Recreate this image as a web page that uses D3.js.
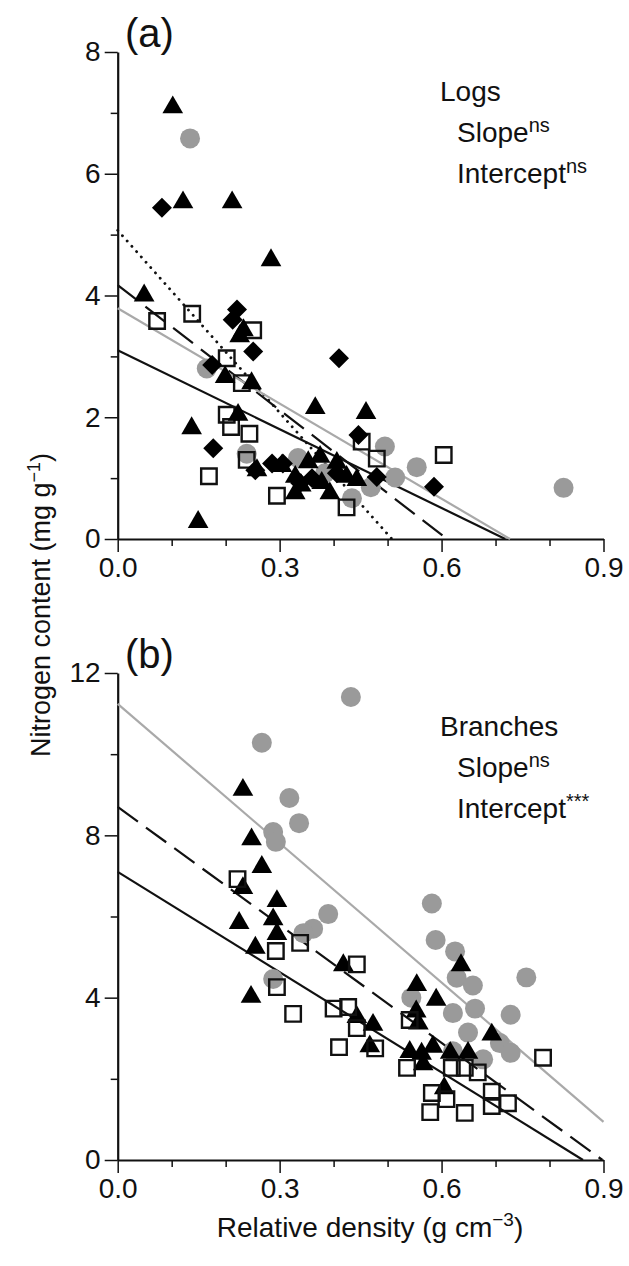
<!DOCTYPE html>
<html>
<head>
<meta charset="utf-8">
<script src="https://cdn.jsdelivr.net/npm/d3@7"></script>
<style>
  body { margin: 0; background: #fff; }
  svg text { font-family: "Liberation Sans", Arial, sans-serif; fill: #111; }
  .axis path, .axis line { stroke: #111; }
  .axis text { font-family: "Liberation Sans", Arial, sans-serif; font-size: 28px; fill: #111; }
</style>
</head>
<body>
<div id="chart"></div>
<script>
// ---- data (relative density, nitrogen content) ----
// (a) Logs
const logsTriangles = [[0.102,7.09],[0.121,5.53],[0.212,5.53],[0.284,4.58],[0.049,4.0],[0.233,3.43],[0.226,3.33],
  [0.199,2.66],[0.248,2.56],[0.366,2.15],[0.46,2.07],[0.137,1.82],[0.223,2.04],[0.149,0.28],[0.258,1.13],[0.304,1.2],
  [0.329,1.02],[0.329,0.75],[0.353,1.26],[0.375,1.35],[0.378,0.92],[0.393,0.75],[0.406,1.25],[0.424,1.02],[0.443,0.97],[0.34,0.88]];
const logsDiamonds = [[0.082,5.44],[0.221,3.77],[0.213,3.6],[0.251,3.08],[0.175,2.86],[0.177,1.49],[0.255,1.13],
  [0.286,1.24],[0.306,1.24],[0.338,0.92],[0.41,2.97],[0.446,1.71],[0.48,1.02],[0.586,0.86],[0.406,1.08],[0.36,1.0]];
const logsSquares = [[0.073,3.58],[0.138,3.7],[0.251,3.43],[0.202,2.97],[0.23,2.56],[0.202,2.04],[0.21,1.84],
  [0.244,1.73],[0.239,1.3],[0.169,1.03],[0.295,0.71],[0.452,1.6],[0.48,1.32],[0.424,0.52],[0.604,1.38]];
const logsCircles = [[0.134,6.58],[0.165,2.8],[0.239,1.4],[0.334,1.33],[0.495,1.52],[0.554,1.18],[0.514,1.01],
  [0.434,0.67],[0.469,0.85],[0.384,1.08],[0.826,0.84]];
// regression lines: [x0, y0, x1, y1]
const logsDotted = [0, 5.07, 0.508, 0];
const logsDashed = [0, 4.17, 0.61, 0];
const logsGrey = [0, 3.79, 0.727, 0];
const logsSolid = [0, 3.10, 0.718, 0];

// (b) Branches
const branchTriangles = [[0.232,9.12],[0.248,7.9],[0.267,7.22],[0.232,6.7],[0.295,6.38],[0.225,5.84],[0.288,5.93],
  [0.295,5.57],[0.255,5.23],[0.247,4.02],[0.418,4.8],[0.443,3.52],[0.473,3.33],[0.467,2.8],[0.636,4.8],[0.554,4.31],
  [0.59,3.95],[0.553,3.66],[0.557,3.36],[0.693,3.09],[0.541,2.66],[0.563,2.62],[0.584,2.79],[0.616,2.64],[0.649,2.64],
  [0.566,2.36],[0.605,1.77]];
const branchSquares = [[0.222,6.92],[0.293,5.15],[0.338,5.35],[0.295,4.26],[0.325,3.6],[0.443,4.82],[0.40,3.73],
  [0.427,3.77],[0.443,3.25],[0.41,2.78],[0.477,2.75],[0.541,3.45],[0.536,2.27],[0.619,2.27],[0.643,2.27],[0.667,2.16],
  [0.582,1.65],[0.609,1.5],[0.579,1.18],[0.643,1.16],[0.693,1.68],[0.693,1.33],[0.723,1.4],[0.788,2.52]];
const branchCircles = [[0.432,11.41],[0.267,10.28],[0.318,8.92],[0.336,8.3],[0.288,8.08],[0.293,7.84],[0.39,6.06],
  [0.362,5.7],[0.344,5.59],[0.288,4.46],[0.582,6.32],[0.589,5.42],[0.625,5.14],[0.628,4.49],[0.658,4.3],[0.757,4.5],
  [0.544,4.0],[0.621,3.62],[0.662,3.73],[0.728,3.58],[0.649,3.14],[0.708,2.88],[0.728,2.64],[0.677,2.48],[0.621,2.68]];
const branchGrey = [0, 11.24, 0.9, 0.94];
const branchDashed = [0, 8.70, 0.898, 0];
const branchSolid = [0, 7.10, 0.862, 0];

const xMajorTicks = [0, 0.3, 0.6, 0.9];
const xMinorTicks = [0.1, 0.2, 0.4, 0.5, 0.7, 0.8];

const width = 629, height = 1266;
const svg = d3.select('#chart').append('svg').attr('width', width).attr('height', height);

const xScale = d3.scaleLinear().domain([0, 0.9]).range([117.7, 603.5]);

const lineStyles = {
  solid: { stroke: '#111', dash: null, width: 2.2 },
  dashed: { stroke: '#111', dash: '25,10', width: 2.2 },
  dotted: { stroke: '#111', dash: '0.1,7', width: 2.8 },
  grey: { stroke: '#a9a9a9', dash: null, width: 2.2 },
};

function drawPanel(p) {
  const yScale = d3.scaleLinear().domain([0, p.yMax]).range([p.bottom, p.top]);
  const g = svg.append('g');

  // axes: minor ticks first, then major with domain line
  const yMinor = d3.axisLeft(yScale).tickValues(p.yMinor).tickSize(7).tickFormat('');
  const yMajor = d3.axisLeft(yScale).tickValues(p.yMajor).tickSize(13).tickSizeOuter(0).tickPadding(4).tickFormat(d3.format('d'));
  const xMinor = d3.axisBottom(xScale).tickValues(xMinorTicks).tickSize(7).tickFormat('');
  const xMajor = d3.axisBottom(xScale).tickValues(xMajorTicks).tickSize(13).tickSizeOuter(0).tickPadding(5).tickFormat(d3.format('.1f'));

  const left = xScale(0);
  g.append('g').attr('class', 'axis').attr('transform', `translate(${left},0)`).call(yMinor)
    .call(s => s.select('.domain').remove()).selectAll('line').attr('stroke-width', 1.5).attr('stroke', '#555');
  g.append('g').attr('class', 'axis').attr('transform', `translate(${left},0)`).call(yMajor)
    .call(s => s.select('.domain').attr('stroke-width', 2.2))
    .call(s => s.selectAll('line').attr('stroke-width', 1.5));
  g.append('g').attr('class', 'axis').attr('transform', `translate(0,${p.bottom})`).call(xMinor)
    .call(s => s.select('.domain').remove()).selectAll('line').attr('stroke-width', 1.5).attr('stroke', '#555');
  g.append('g').attr('class', 'axis').attr('transform', `translate(0,${p.bottom})`).call(xMajor)
    .call(s => s.select('.domain').attr('stroke-width', 2.2))
    .call(s => s.selectAll('line').attr('stroke-width', 1.5));

  // regression lines
  p.lines.forEach(([pts, key]) => {
    const st = lineStyles[key];
    g.append('line')
      .attr('x1', xScale(pts[0])).attr('y1', yScale(pts[1]))
      .attr('x2', xScale(pts[2])).attr('y2', yScale(pts[3]))
      .attr('stroke', st.stroke)
      .attr('stroke-width', st.width)
      .attr('stroke-dasharray', st.dash)
      .attr('stroke-linecap', key === 'dotted' ? 'round' : 'butt');
  });

  // points
  const sym = (type, size) => d3.symbol().type(type).size(size)();
  p.series.forEach(s => {
    g.selectAll(null).data(s.data).enter().append('path')
      .attr('d', s.kind === 'circle' ? sym(d3.symbolCircle, 314)
        : s.kind === 'triangle' ? sym(d3.symbolTriangle, 185)
        : s.kind === 'diamond' ? sym(d3.symbolSquare, 200)
        : sym(d3.symbolSquare, 240))
      .attr('transform', d => `translate(${xScale(d[0])},${yScale(d[1])})` + (s.kind === 'diamond' ? ' rotate(45)' : ''))
      .attr('fill', s.kind === 'circle' ? '#9a9a9a' : s.kind === 'square' ? 'none' : '#000')
      .attr('stroke', s.kind === 'square' ? '#111' : 'none')
      .attr('stroke-width', s.kind === 'square' ? 2.4 : 0);
  });

  // panel letter
  g.append('text').attr('x', 125).attr('y', p.top - 5).attr('font-size', 40).text(p.letter);

  // annotation
  const ann = g.append('text').attr('font-size', 28);
  ann.append('tspan').attr('x', 440).attr('y', p.annY).text(p.title);
  ann.append('tspan').attr('x', 457).attr('y', p.annY + 41).text('Slope');
  ann.append('tspan').attr('font-size', 20).attr('dy', -10).text(p.slopeSig);
  ann.append('tspan').attr('x', 457).attr('y', p.annY + 82).text('Intercept');
  ann.append('tspan').attr('font-size', 20).attr('dy', -10).text(p.interSig);
}

drawPanel({
  letter: '(a)', top: 52, bottom: 539, yMax: 8,
  yMajor: [0, 2, 4, 6, 8], yMinor: [1, 3, 5, 7],
  lines: [[logsDotted, 'dotted'], [logsDashed, 'dashed'], [logsGrey, 'grey'], [logsSolid, 'solid']],
  series: [
    { kind: 'circle', data: logsCircles },
    { kind: 'square', data: logsSquares },
    { kind: 'diamond', data: logsDiamonds },
    { kind: 'triangle', data: logsTriangles },
  ],
  annY: 101, title: 'Logs', slopeSig: 'ns', interSig: 'ns',
});

drawPanel({
  letter: '(b)', top: 673, bottom: 1160, yMax: 12,
  yMajor: [0, 4, 8, 12], yMinor: [2, 6, 10],
  lines: [[branchGrey, 'grey'], [branchDashed, 'dashed'], [branchSolid, 'solid']],
  series: [
    { kind: 'circle', data: branchCircles },
    { kind: 'triangle', data: branchTriangles },
    { kind: 'square', data: branchSquares },
  ],
  annY: 736, title: 'Branches', slopeSig: 'ns', interSig: '***',
});

// axis titles
const yLab = svg.append('text')
  .attr('transform', 'translate(50,605) rotate(-90)')
  .attr('text-anchor', 'middle').attr('font-size', 27);
yLab.append('tspan').text('Nitrogen content (mg g');
yLab.append('tspan').attr('font-size', 18).attr('dy', -10).text('\u22121');
yLab.append('tspan').attr('dy', 10).text(')');

const xLab = svg.append('text')
  .attr('x', 370).attr('y', 1237)
  .attr('text-anchor', 'middle').attr('font-size', 28);
xLab.append('tspan').text('Relative density (g cm');
xLab.append('tspan').attr('font-size', 19).attr('dy', -11).text('\u22123');
xLab.append('tspan').attr('dy', 11).text(')');
</script>
</body>
</html>
